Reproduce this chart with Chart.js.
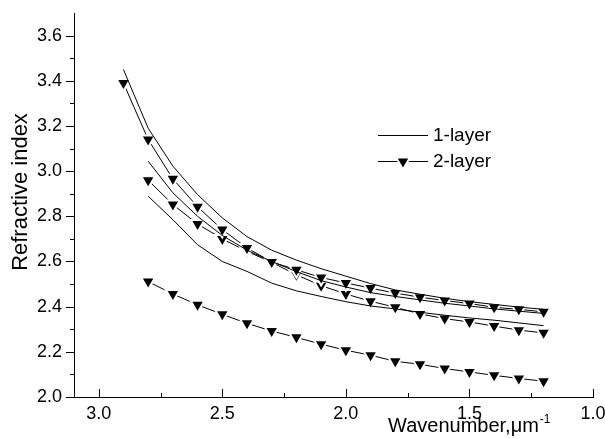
<!DOCTYPE html>
<html>
<head>
<meta charset="utf-8">
<script src="https://cdn.jsdelivr.net/npm/chart.js@4.4.0/dist/chart.umd.min.js"></script>
<style>
  html, body { margin: 0; padding: 0; background: #fff; }
</style>
</head>
<body>
<canvas id="chart" width="605" height="439"></canvas>
<script>
// wavenumbers (um^-1)
const wnLong = [2.9, 2.8, 2.7, 2.6, 2.5, 2.4, 2.3, 2.2, 2.1, 2.0, 1.9, 1.8, 1.7, 1.6, 1.5, 1.4, 1.3, 1.2];
const wnShort = [2.8, 2.7, 2.6, 2.5, 2.4, 2.3, 2.2, 2.1, 2.0, 1.9, 1.8, 1.7, 1.6, 1.5, 1.4, 1.3, 1.2];

// 1-layer curves
const oneLayerA = [3.45, 3.19, 3.022, 2.896, 2.793, 2.71, 2.65, 2.606, 2.568, 2.535, 2.502, 2.474, 2.455, 2.437, 2.422, 2.410, 2.398, 2.388];
const oneLayerB = [3.044, 2.904, 2.80, 2.715, 2.65, 2.60, 2.555, 2.515, 2.487, 2.462, 2.445, 2.43, 2.415, 2.403, 2.39, 2.38, 2.37];
const oneLayerC = [2.889, 2.785, 2.674, 2.60, 2.556, 2.504, 2.47, 2.445, 2.422, 2.403, 2.39, 2.375, 2.362, 2.35, 2.34, 2.328, 2.316];

// 2-layer curves
const twoLayerA = [3.39, 3.14, 2.966, 2.842, 2.741, 2.66, 2.598, 2.563, 2.529, 2.505, 2.482, 2.46, 2.442, 2.427, 2.414, 2.397, 2.388, 2.377];
const twoLayerB = [2.96, 2.852, 2.766, 2.70, 2.645, 2.596, 2.541, 2.493, 2.456, 2.424, 2.397, 2.368, 2.347, 2.332, 2.314, 2.296, 2.284];
const twoLayerC = [2.511, 2.456, 2.408, 2.366, 2.326, 2.292, 2.264, 2.234, 2.207, 2.185, 2.158, 2.145, 2.126, 2.111, 2.096, 2.082, 2.07];

const xTitle = 'Wavenumber,\u03bcm';
const xTitleSup = '-1';
const yTitle = 'Refractive index';

const family = "'Liberation Sans', Arial, sans-serif";
Chart.defaults.font.family = family;
Chart.defaults.color = '#000';

const pts = (xs, ys) => xs.map((x, i) => ({ x: x, y: ys[i] }));

function plain(label, xs, ys) {
    return {
        label: label,
        data: pts(xs, ys),
        borderColor: '#000',
        borderWidth: 1,
        pointRadius: 0,
        tension: 0
    };
}

function marked(label, xs, ys) {
    return {
        label: label,
        data: pts(xs, ys),
        borderColor: '#000',
        borderWidth: 1,
        pointStyle: 'triangle',
        rotation: 180,
        pointRadius: 8,
        pointBackgroundColor: '#000',
        pointBorderColor: '#fff',
        pointBorderWidth: 2,
        tension: 0
    };
}

// minor/major ticks, axis titles and the legend
const decor = {
    id: 'decor',
    afterDraw(chart) {
        const ctx = chart.ctx;
        const area = chart.chartArea;
        const x = chart.scales.x;
        const y = chart.scales.y;
        ctx.save();
        ctx.strokeStyle = '#000';
        ctx.lineWidth = 1;
        ctx.beginPath();
        for (let i = 20; i <= 36; i++) {
            const py = Math.round(y.getPixelForValue(i / 10)) + 0.5;
            const len = i % 2 === 0 ? 8 : 4;
            ctx.moveTo(area.left - len, py);
            ctx.lineTo(area.left, py);
        }
        for (let i = 4; i <= 12; i++) {
            const px = Math.round(x.getPixelForValue(i / 4)) + 0.5;
            const len = i % 2 === 0 ? 8 : 4;
            ctx.moveTo(px, area.bottom);
            ctx.lineTo(px, area.bottom - len);
        }
        ctx.stroke();

        ctx.fillStyle = '#000';
        // x title with superscript
        ctx.font = '20px ' + family;
        ctx.textAlign = 'left';
        ctx.textBaseline = 'alphabetic';
        ctx.fillText(xTitle, 388, 432);
        const w = ctx.measureText(xTitle).width;
        ctx.font = '12px ' + family;
        ctx.fillText(xTitleSup, 388 + w + 1, 423);

        // y title
        ctx.save();
        ctx.translate(27, 192);
        ctx.rotate(-Math.PI / 2);
        ctx.font = '22px ' + family;
        ctx.textAlign = 'center';
        ctx.fillText(yTitle, 0, 0);
        ctx.restore();

        // legend
        const seen = [];
        chart.data.datasets.forEach(ds => {
            if (!seen.find(s => s.label === ds.label)) seen.push(ds);
        });
        ctx.font = '19px ' + family;
        ctx.textBaseline = 'middle';
        seen.forEach((ds, i) => {
            const ly = 135 + i * 26;
            ctx.strokeStyle = '#000';
            ctx.lineWidth = 1;
            ctx.beginPath();
            ctx.moveTo(378, ly + 0.5);
            ctx.lineTo(428, ly + 0.5);
            ctx.stroke();
            if (ds.pointRadius > 0) {
                ctx.fillStyle = '#000';
                ctx.strokeStyle = '#fff';
                ctx.lineWidth = 2;
                Chart.helpers.drawPoint(ctx, {
                    pointStyle: 'triangle', rotation: 180, radius: 8, borderWidth: 2
                }, 403, ly + 0.5);
            }
            ctx.fillStyle = '#000';
            ctx.fillText(ds.label, 433, ly + 1);
        });
        ctx.restore();
    }
};

const chart = new Chart(document.getElementById('chart').getContext('2d'), {
    type: 'line',
    data: {
        datasets: [
            plain('1-layer', wnLong, oneLayerA),
            plain('1-layer', wnShort, oneLayerB),
            plain('1-layer', wnShort, oneLayerC),
            marked('2-layer', wnLong, twoLayerA),
            marked('2-layer', wnShort, twoLayerB),
            marked('2-layer', wnShort, twoLayerC)
        ]
    },
    options: {
        responsive: false,
        animation: false,
        events: [],
        layout: { padding: { top: 13, right: 12, left: 0, bottom: 0 } },
        plugins: {
            legend: { display: false },
            title: { display: false },
            tooltip: { enabled: false }
        },
        scales: {
            x: {
                type: 'linear',
                reverse: true,
                min: 1.0,
                max: 3.1,
                grid: { display: false, drawTicks: false },
                border: { display: true, color: '#000', width: 1 },
                ticks: {
                    stepSize: 0.5,
                    includeBounds: false,
                    autoSkip: false,
                    maxRotation: 0,
                    padding: 6,
                    font: { size: 18 },
                    callback: v => v.toFixed(1)
                },
                afterFit(scale) {
                    scale.height = 42;
                    scale.paddingLeft = 0;
                    scale.paddingRight = 0;
                }
            },
            y: {
                min: 2.0,
                max: 3.7,
                grid: { display: false, drawTicks: false },
                border: { display: true, color: '#000', width: 1 },
                ticks: {
                    stepSize: 0.2,
                    includeBounds: false,
                    autoSkip: false,
                    padding: 12,
                    font: { size: 18 },
                    callback: v => v.toFixed(1)
                },
                afterFit(scale) {
                    scale.width = 74;
                    scale.paddingTop = 0;
                    scale.paddingBottom = 0;
                }
            }
        }
    },
    plugins: [decor]
});
</script>
</body>
</html>
